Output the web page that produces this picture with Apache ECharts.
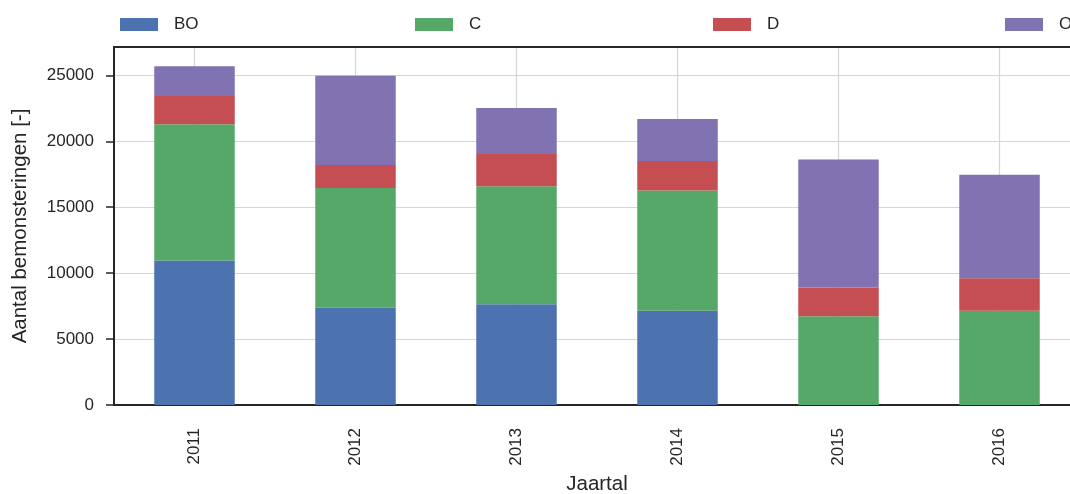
<!DOCTYPE html>
<html>
<head>
<meta charset="utf-8">
<script src="https://cdn.jsdelivr.net/npm/echarts@6/dist/echarts.min.js"></script>
<style>
html,body{margin:0;padding:0;background:#fff;}
#chart{width:1070px;height:494px;}
</style>
</head>
<body>
<div id="chart"></div>
<script>
const years = ['2011', '2012', '2013', '2014', '2015', '2016'];
const seriesNames = ['BO', 'C', 'D', 'O'];
const valuesBO = [10950, 7370, 7650, 7150, 0, 0];
const valuesC = [10350, 9090, 8940, 9110, 6740, 7150];
const valuesD = [2140, 1740, 2450, 2250, 2170, 2470];
const valuesO = [2250, 6770, 3490, 3180, 9700, 7850];
const yTicks = [0, 5000, 10000, 15000, 20000, 25000];
const colors = ['#4C72B0', '#55A868', '#C44E52', '#8172B2'];

const FONT = "'Liberation Sans', Arial, sans-serif";
const INK = '#262626';
const seriesValues = [valuesBO, valuesC, valuesD, valuesO];
const legendLefts = [120, 415, 713, 1005];

const chart = echarts.init(document.getElementById('chart'), null, {renderer: 'canvas'});
const halfCats = [];
years.forEach(y => { halfCats.push(y + 'a'); halfCats.push(y + 'b'); });

const option = {
  animation: false,
  textStyle: {fontFamily: FONT},
  grid: {left: 114, width: 966, top: 47, bottom: 89, containLabel: false, outerBoundsMode: 'none'},
  legend: seriesNames.map((n, i) => ({
    data: [n],
    left: legendLefts[i],
    top: 16,
    padding: 0,
    icon: 'rect',
    itemWidth: 38,
    itemHeight: 13,
    selectedMode: false,
    textStyle: {fontFamily: FONT, fontSize: 17, color: INK, padding: [0, 0, 0, 11]}
  })),
  xAxis: [
    {
      type: 'category',
      data: years,
      position: 'bottom',
      name: 'Jaartal',
      nameLocation: 'middle',
      nameGap: 68,
      nameTextStyle: {fontFamily: FONT, fontSize: 20.5, color: INK},
      axisLine: {lineStyle: {color: INK, width: 2}},
      axisTick: {alignWithLabel: true, length: 8, lineStyle: {color: INK, width: 1.5}},
      axisLabel: {rotate: 90, fontSize: 17, color: INK, margin: 23, fontFamily: FONT},
      splitLine: {show: false}
    },
    {
      type: 'category',
      data: halfCats,
      position: 'top',
      axisLine: {show: true, lineStyle: {color: INK, width: 2}},
      axisTick: {show: false},
      axisLabel: {show: false},
      splitLine: {show: true, interval: (i) => i % 2 === 1, lineStyle: {color: '#d5d5d5', width: 1.2}}
    }
  ],
  yAxis: {
    type: 'value',
    min: 0,
    max: 27150,
    interval: 5000,
    name: 'Aantal bemonsteringen [-]',
    nameLocation: 'middle',
    nameGap: 83,
    nameTextStyle: {fontFamily: FONT, fontSize: 20.5, color: INK},
    axisLine: {show: true, lineStyle: {color: INK, width: 2}},
    axisTick: {show: true, length: 8, customValues: yTicks, lineStyle: {color: INK, width: 1.5}},
    axisLabel: {fontSize: 17, color: INK, margin: 20, fontFamily: FONT, customValues: yTicks,
      formatter: (v) => String(v)},
    splitLine: {show: true, lineStyle: {color: '#d5d5d5', width: 1.2}}
  },
  series: seriesNames.map((n, i) => ({
    name: n,
    type: 'bar',
    stack: 'total',
    xAxisIndex: 0,
    yAxisIndex: 0,
    barWidth: '50%',
    data: seriesValues[i],
    itemStyle: {color: colors[i]}
  }))
};
chart.setOption(option);
</script>
</body>
</html>
